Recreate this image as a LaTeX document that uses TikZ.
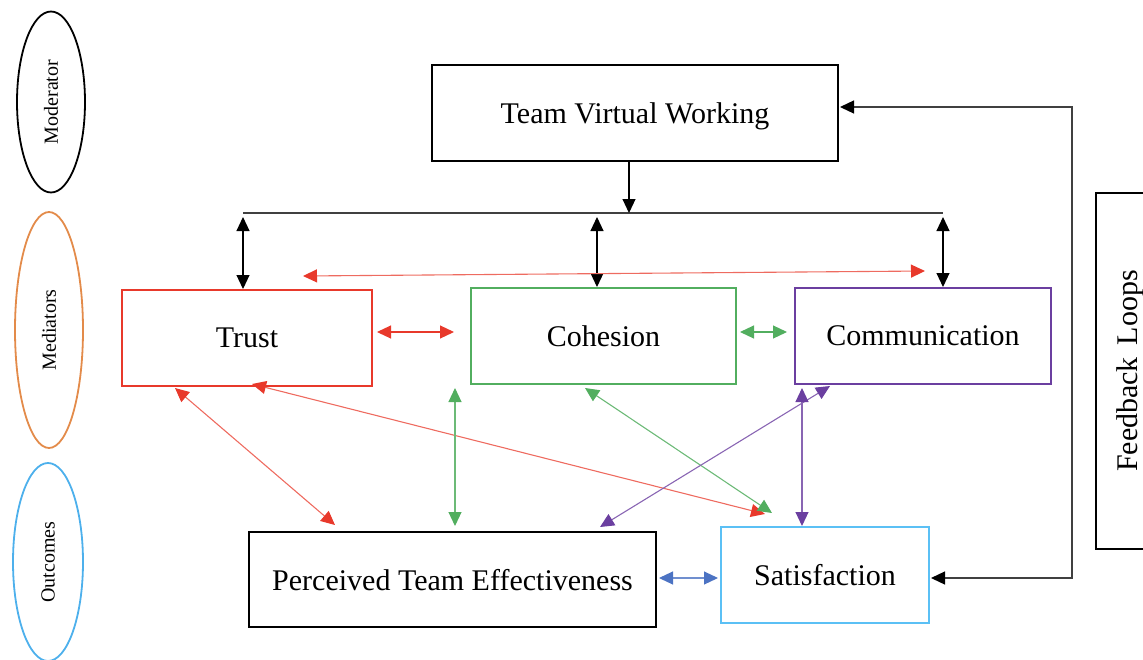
\documentclass[tikz,border=0pt]{standalone}
\usepackage{fontspec}
\setmainfont{Liberation Serif}
\usetikzlibrary{arrows.meta,shapes.geometric,calc}

\definecolor{trustred}{HTML}{E8392B}
\definecolor{cohgreen}{HTML}{52AE5F}
\definecolor{compurple}{HTML}{6B3FA0}
\definecolor{satblue}{HTML}{5BC0F5}
\definecolor{linkblue}{HTML}{4C73C3}
\definecolor{medorange}{HTML}{E38B4A}
\definecolor{outblue}{HTML}{4DB0EC}

\begin{document}
\begin{tikzpicture}[x=1pt,y=-1pt,
  box/.style={draw, line width=2pt, rectangle, inner sep=0pt, text depth=0pt,
    font=\fontsize{30}{35}\selectfont},
  band/.style={draw, ellipse, line width=1.8pt, inner sep=0pt, rotate=90,
    font=\fontsize{20}{24}\selectfont},
  conn/.style={line width=1.1pt, draw=#1},
  tips2/.style={arrows={Triangle[length=14pt,width=13pt,#1]-Triangle[length=14pt,width=13pt,#1]}},
  tip1/.style={arrows={-Triangle[length=14pt,width=13pt,#1]}},
]
\useasboundingbox (0,0) rectangle (1143,659);

% side bands
\node[band, minimum width=181pt, minimum height=68pt] (mod) at (51,102) {Moderator};
\node[band, draw=medorange, minimum width=236pt, minimum height=68pt] (med) at (49,330) {Mediators};
\node[band, draw=outblue, minimum width=198pt, minimum height=70pt] (out) at (48,562) {Outcomes};

% constructs
\node[box, minimum width=406pt, minimum height=96pt] (tvw) at (635,113) {Team Virtual Working};
\node[box, draw=trustred, minimum width=250pt, minimum height=96pt] (trust) at (247,338) {Trust};
\node[box, draw=cohgreen, minimum width=265pt, minimum height=96pt] (coh) at (603.5,336) {Cohesion};
\node[box, draw=compurple, minimum width=256pt, minimum height=96pt] (comm) at (923,336) {Communication};
\node[box, minimum width=407pt, minimum height=95pt] (pte) at (452.5,579.5) {Perceived Team Effectiveness};
\node[box, draw=satblue, minimum width=208pt, minimum height=96pt] (sat) at (825,575) {Satisfaction};
\node[box, rotate=90, minimum width=356pt, minimum height=62pt] (fb) at (1127,371) {Feedback\hspace{12pt}Loops};

% moderator bus
\coordinate (busL) at (243,213);
\coordinate (busM) at (597,213);
\coordinate (busR) at (943,213);
\coordinate (tvwOut) at ($(tvw.south)+(-6,0)$);
\draw[line width=1.3pt, draw=black!75] (busL) -- (busR);
\draw[line width=1.1pt, tip1={color=black}] (tvwOut) -- (tvwOut |- busL);
\draw[conn=black, tips2={color=black}] ($(busL)+(0,4)$) -- (busL |- trust.north);
\draw[conn=black, tips2={color=black}] ($(busM)+(0,4)$) -- (busM |- coh.north);
\draw[conn=black, tips2={color=black}] ($(busR)+(0,4)$) -- (busR |- comm.north);

% links between mediators
\draw[conn=trustred!75, tips2={color=trustred}] ($(trust.north)+(56,-13)$) -- ($(comm.north)+(2,-16)$);
\draw[conn=trustred, tips2={color=trustred}] ($(trust.east)+(4,-6)$) -- ($(coh.west)+(-16,-4)$);
\draw[conn=cohgreen, tips2={color=cohgreen}] ($(coh.east)+(3,-4)$) -- ($(comm.west)+(-7,-4)$);

% links from mediators to outcomes
\draw[conn=trustred!75, tips2={color=trustred}] ($(trust.south)+(-72,1)$) -- ($(pte.north)+(-117.5,-6)$);
\draw[conn=trustred!75, tips2={color=trustred}] ($(trust.south)+(5,-3)$) -- ($(sat.north)+(-60,-12)$);
\draw[conn=cohgreen!85, tips2={color=cohgreen}] ($(coh.south)+(-148.5,3)$) -- ($(pte.north)+(2.5,-5)$);
\draw[conn=cohgreen!85, tips2={color=cohgreen}] ($(coh.south)+(-18.5,3)$) -- ($(sat.north)+(-53,-13)$);
\draw[conn=compurple!80, tips2={color=compurple}] ($(comm.south)+(-93,1)$) -- ($(pte.north)+(147.5,-4)$);
\draw[conn=compurple!80, tips2={color=compurple}] ($(comm.south)+(-121,3)$) -- ($(sat.north)+(-23,0)$);

% between outcomes
\draw[conn=linkblue!80, tips2={color=linkblue}] ($(pte.east)+(2,-1.5)$) -- ($(sat.west)+(-2,3)$);

% feedback loop
\coordinate (fbTop) at (1072,107);
\coordinate (fbBot) at (1072,578);
\draw[line width=1.3pt, draw=black!75, tips2={color=black}] ($(sat.east)+(1,3)$) -- (fbBot) -- (fbTop) -- ($(tvw.east)+(1,-6)$);
\end{tikzpicture}
\end{document}
